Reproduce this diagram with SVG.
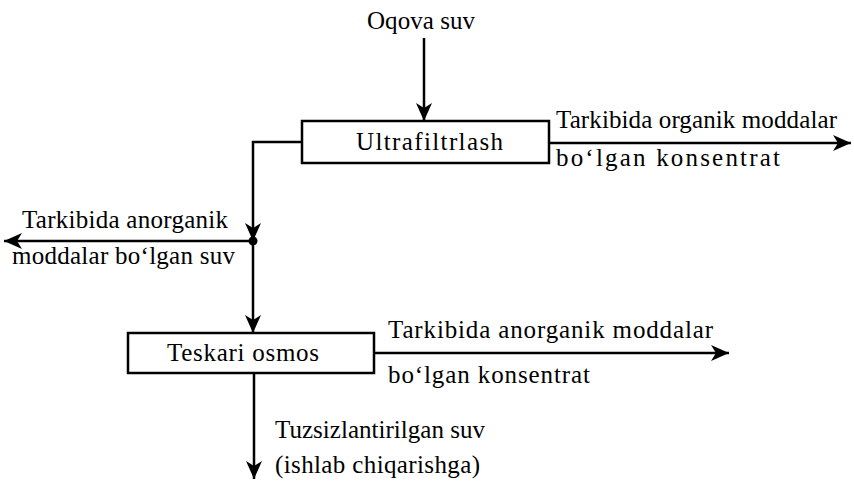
<svg xmlns="http://www.w3.org/2000/svg" width="854" height="491" viewBox="0 0 854 491">
<style>
.t{font-family:"Liberation Serif","Times New Roman",serif;font-size:25px;fill:#000}
.box{fill:#fff;stroke:#000;stroke-width:2.5}
.ln{fill:none;stroke:#000;stroke-width:2.5}
</style>
<defs>
<marker id="ah" markerWidth="20" markerHeight="16" refX="18" refY="8" orient="auto" markerUnits="userSpaceOnUse">
<path d="M0,0 L18,8 L0,16 L5,8 z" fill="#000"/>
</marker>
</defs>
<g id="connectors">
<line class="ln" x1="424" y1="38" x2="424" y2="121" marker-end="url(#ah)"/>
<line class="ln" x1="549" y1="143" x2="851" y2="143" marker-end="url(#ah)"/>
<polyline class="ln" points="302,142 253,142 253,241" marker-end="url(#ah)"/>
<line class="ln" x1="253" y1="241" x2="4" y2="241" marker-end="url(#ah)"/>
<circle cx="253" cy="241" r="4.5" fill="#000"/>
<line class="ln" x1="253" y1="241" x2="253" y2="333" marker-end="url(#ah)"/>
<line class="ln" x1="374" y1="353" x2="729" y2="353" marker-end="url(#ah)"/>
<line class="ln" x1="254" y1="373" x2="254" y2="479" marker-end="url(#ah)"/>
</g>
<g id="source"><text class="t" x="367" y="29" textLength="108">Oqova suv</text></g>
<g id="ultrafiltrlash">
<rect class="box" x="302" y="121" width="247" height="42"/>
<text class="t" x="356" y="150" textLength="147">Ultrafiltrlash</text>
</g>
<g id="organic-concentrate">
<text class="t" x="556" y="128" textLength="281">Tarkibida organik moddalar</text>
<text class="t" x="556" y="166" textLength="224">bo‘lgan konsentrat</text>
</g>
<g id="inorganic-water">
<text class="t" x="22" y="228" textLength="206">Tarkibida anorganik</text>
<text class="t" x="12" y="264" textLength="223">moddalar bo‘lgan suv</text>
</g>
<g id="teskari-osmos">
<rect class="box" x="128" y="333" width="246" height="40"/>
<text class="t" x="167" y="361" textLength="152">Teskari osmos</text>
</g>
<g id="inorganic-concentrate">
<text class="t" x="388" y="338" textLength="325">Tarkibida anorganik moddalar</text>
<text class="t" x="388" y="383" textLength="202">bo‘lgan konsentrat</text>
</g>
<g id="desalinated">
<text class="t" x="275" y="438" textLength="210">Tuzsizlantirilgan suv</text>
<text class="t" x="275" y="473" textLength="205">(ishlab chiqarishga)</text>
</g>
</svg>
